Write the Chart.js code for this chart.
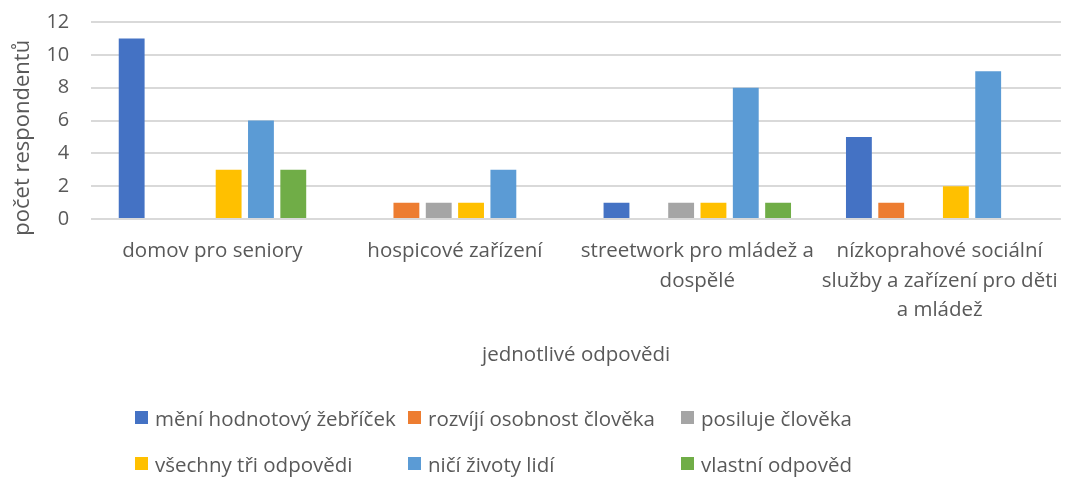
<!DOCTYPE html>
<html>
<head>
<meta charset="utf-8">
<script src="https://cdn.jsdelivr.net/npm/chart.js@4.4.1/dist/chart.umd.min.js"></script>
<style>
  html, body { margin: 0; padding: 0; background: #fff; }
  #wrap { position: relative; width: 1077px; height: 478px; }
  #legend {
    position: absolute; left: 135px; top: 403px;
    display: grid; grid-template-columns: 273px 273px 273px; grid-auto-rows: 46px;
    font-family: "Open Sans", sans-serif; font-size: 20.5px; color: #595959;
  }
  .item { display: flex; align-items: center; height: 29px; }
  .box { width: 13px; height: 13px; margin-right: 7px; flex: none; }
</style>
</head>
<body>
<div id="wrap">
  <canvas id="chart" width="1077" height="478"></canvas>
  <div id="legend"></div>
</div>
<script>
const categories = [
  "domov pro seniory",
  "hospicové zařízení",
  ["streetwork pro mládež a", "dospělé"],
  ["nízkoprahové sociální", "služby a zařízení pro děti", "a mládež"],
];

const seriesNames = [
  "mění hodnotový žebříček",
  "rozvíjí osobnost člověka",
  "posiluje člověka",
  "všechny tři odpovědi",
  "ničí životy lidí",
  "vlastní odpověd",
];

const seriesColors = ["#4472C4", "#ED7D31", "#A5A5A5", "#FFC000", "#5B9BD5", "#70AD47"];

// values per series, in category order
const meniHodnoty = [11, 0, 1, 5];
const rozvijiOsobnost = [0, 1, 0, 1];
const posiluje = [0, 1, 1, 0];
const vsechnyTri = [3, 1, 1, 2];
const niciZivoty = [6, 3, 8, 9];
const vlastni = [3, 0, 1, 0];

const seriesValues = [meniHodnoty, rozvijiOsobnost, posiluje, vsechnyTri, niciZivoty, vlastni];

const yTicks = [0, 2, 4, 6, 8, 10, 12];

const textColor = "#595959";
const fontFamily = "'Open Sans', sans-serif";

const datasets = seriesNames.map((name, i) => ({
  label: name,
  data: seriesValues[i],
  backgroundColor: seriesColors[i],
  borderWidth: 0,
  categoryPercentage: 0.8,
  barPercentage: 0.8,
}));

new Chart(document.getElementById("chart").getContext("2d"), {
  type: "bar",
  data: { labels: categories, datasets: datasets },
  options: {
    responsive: false,
    animation: false,
    layout: { padding: { top: 0, right: 11, left: 0, bottom: 111 } },
    plugins: {
      legend: { display: false },
      tooltip: { enabled: false },
    },
    scales: {
      x: {
        grid: { display: false, drawTicks: false },
        border: { display: false },
        ticks: {
          color: textColor,
          font: { family: fontFamily, size: 20.5, lineHeight: 1.42 },
          padding: 18,
          maxRotation: 0,
          autoSkip: false,
        },
        title: {
          display: true,
          text: "jednotlivé odpovědi",
          color: textColor,
          font: { family: fontFamily, size: 20.5 },
          padding: { top: 0, bottom: 0 },
        },
      },
      y: {
        min: yTicks[0],
        max: yTicks[yTicks.length - 1],
        afterBuildTicks: (axis) => {
          axis.ticks = yTicks.map((v) => ({ value: v }));
        },
        grid: { color: "#D9D9D9", lineWidth: 2, drawTicks: false },
        border: { display: false },
        ticks: {
          color: textColor,
          // tiny line height so the top label doesn't push the plot down
          font: { family: fontFamily, size: 20, lineHeight: 0.01 },
          padding: 22,
        },
        title: {
          display: true,
          // trailing spaces nudge the rotated title downwards, as in the original
          text: "počet respondentů\u00a0\u00a0\u00a0\u00a0\u00a0\u00a0",
          color: textColor,
          font: { family: fontFamily, size: 22 },
          padding: { top: 10, bottom: -12 },
        },
      },
    },
  },
});

// legend laid out in three columns like the original
const legend = document.getElementById("legend");
seriesNames.forEach((name, i) => {
  const item = document.createElement("div");
  item.className = "item";
  item.innerHTML = `<span class="box" style="background:${seriesColors[i]}"></span><span>${name}</span>`;
  legend.appendChild(item);
});
</script>
</body>
</html>
